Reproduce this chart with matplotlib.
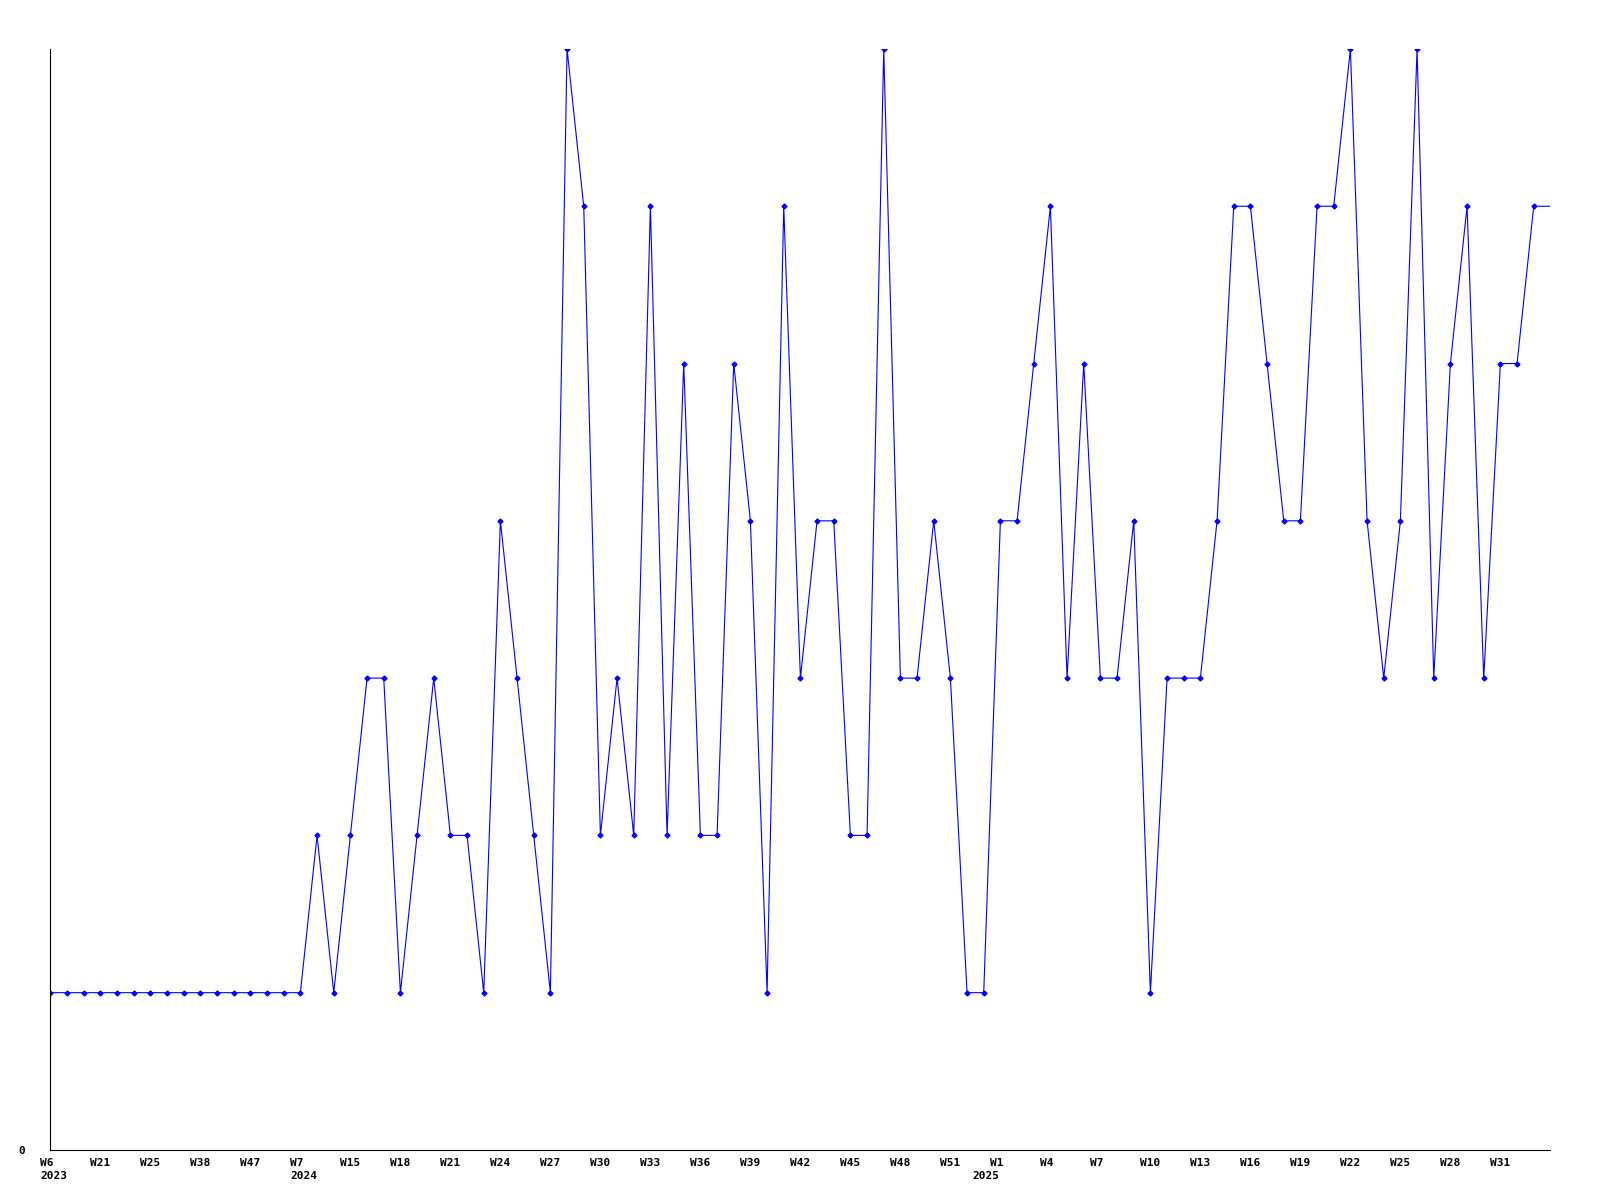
import matplotlib.pyplot as plt
import matplotlib.transforms as mtransforms

# Wochenwerte (Anzahl pro Woche)
counts = [1, 1, 1, 1, 1, 1, 1, 1, 1, 1, 1, 1, 1, 1, 1, 1,
          2, 1, 2, 3, 3, 1, 2, 3, 2, 2, 1, 4, 3, 2, 1,
          7, 6, 2, 3, 2, 6, 2, 5, 2, 2, 5, 4, 1, 6, 3, 4, 4, 2, 2,
          7, 3, 3, 4, 3, 1, 1, 4, 4, 5, 6, 3, 5, 3, 3, 4, 1,
          3, 3, 3, 4, 6, 6, 5, 4, 4, 6, 6, 7, 4, 3, 4, 7, 3, 5, 6, 3, 5, 5, 6]

tick_labels = ["W6", "W21", "W25", "W38", "W47", "W7", "W15", "W18",
               "W21", "W24", "W27", "W30", "W33", "W36", "W39", "W42", "W45",
               "W48", "W51", "W1", "W4", "W7", "W10", "W13", "W16", "W19",
               "W22", "W25", "W28", "W31"]

years = ["2023", "2024", "2025"]
year_pos = [0, 15, 57]

x = list(range(len(counts)))

fig = plt.figure(figsize=(16, 12), dpi=100)
ax = fig.add_axes([0.0315, 0.0417, 0.9375, 0.9175])

# Linie läuft bis zum Achsenende weiter
ax.plot(x + [len(counts)], counts + [counts[-1]], color="#0000ff", lw=0.8)
ax.plot(x, counts, color="#0000ff", lw=0, marker="D", markersize=2.5)

ax.set_xlim(0, len(counts))
ax.set_ylim(0, 7)
for s in ["top", "right"]:
    ax.spines[s].set_visible(False)

font = dict(fontfamily="DejaVu Sans Mono", fontweight="bold", fontsize=8)

ax.set_yticks([0])
ax.set_yticklabels(["0"], **font)
ax.tick_params(axis="y", length=0, pad=18)

ax.set_xticks(range(0, len(counts), 3))
ax.set_xticklabels(tick_labels, ha="left", **font)
ax.tick_params(axis="x", length=0, pad=6)
offset = mtransforms.ScaledTranslation(-10 / 100, 0, fig.dpi_scale_trans)
for lbl in ax.get_xticklabels():
    lbl.set_transform(lbl.get_transform() + offset)

# Jahreszahlen in zweiter Zeile
trans = ax.get_xaxis_transform()
for yr, pos in zip(years, year_pos):
    dx = -28 if yr == "2025" else -10
    t = ax.text(pos, 0, yr, transform=trans, ha="left", va="top", **font)
    t.set_transform(trans + mtransforms.ScaledTranslation(dx / 100, -21 / 100, fig.dpi_scale_trans))

fig.savefig("out.png", dpi=100)
